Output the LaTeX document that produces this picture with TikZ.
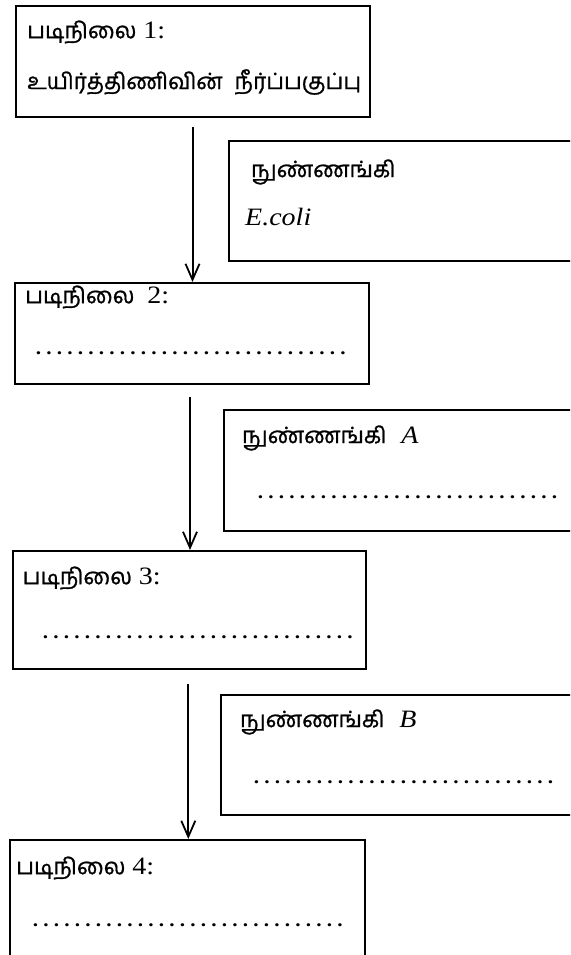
\documentclass[tikz,border=0pt]{standalone}
\usepackage{fontspec}
\setmainfont{Liberation Serif}[FakeStretch=1.12]
\newfontfamily\tamil[Script=Tamil,FakeBold=1]{Hind Madurai}
\usetikzlibrary{arrows.meta}
\newcommand\tamtxt[1]{{\tamil\fontsize{22.5}{25}\selectfont #1}}
\newcommand\dotrow[1]{\makebox[#1][l]{\leaders\hbox to 10.5pt{\hss.\hss}\hskip #1}}
\begin{document}
\begin{tikzpicture}[x=1pt,y=-1pt,
  box/.style={draw,line width=2pt,inner sep=0pt,anchor=north west},
  lbl/.style={anchor=west,inner sep=0pt,font=\fontsize{25}{28}\selectfont},
  dotsty/.style={anchor=west,inner sep=0pt,font=\bfseries\fontsize{19}{22}\selectfont},
  arr/.style={line width=2pt,-{Straight Barb[length=16pt,width=14pt,line width=1.8pt]}}]
\useasboundingbox (0,0) rectangle (570,955);
\clip (0,0) rectangle (570,955);
% main step boxes
\node[box,minimum width=354pt,minimum height=111pt] (b1) at (14.5,5) {};
\node[box,minimum width=354pt,minimum height=101pt] (b2) at (14,282) {};
\node[box,minimum width=353.4pt,minimum height=118pt] (b3) at (11.6,550) {};
\node[box,minimum width=355pt,minimum height=140pt] (b4) at (9,839) {};
% side boxes
\node[box,minimum width=360pt,minimum height=120pt] (s1) at (228,140) {};
\node[box,minimum width=360pt,minimum height=121pt] (s2) at (222.5,409) {};
\node[box,minimum width=360pt,minimum height=120pt] (s3) at (220,694) {};
% texts
\node[lbl] (t1a) at (27,32) {\tamtxt{படிநிலை} 1:};
\node[lbl] (t1b) at (27,82) {\tamtxt{உயிர்த்திணிவின்\hspace{12pt}நீர்ப்பகுப்பு}};
\node[lbl] (t2a) at (25,297) {\tamtxt{படிநிலை}\hspace{6pt} 2:};
\node[dotsty] (t2b) at (33,353) {\dotrow{320pt}};
\node[lbl] (s1a) at (251,172) {\tamtxt{நுண்ணங்கி}};
\node[lbl] (s1b) at (245,217) {\itshape E.coli};
\node[lbl] (s2a) at (242,438) {\tamtxt{நுண்ணங்கி}\hspace{8pt} \itshape A};
\node[dotsty] (s2b) at (255,497) {\dotrow{310pt}};
\node[lbl] (t3a) at (22.5,578) {\tamtxt{படிநிலை} 3:};
\node[dotsty] (t3b) at (40,637) {\dotrow{315pt}};
\node[lbl] (s3a) at (240,722) {\tamtxt{நுண்ணங்கி}\hspace{8pt} \itshape B};
\node[dotsty] (s3b) at (251,782) {\dotrow{313pt}};
\node[lbl] (t4a) at (16,868) {\tamtxt{படிநிலை} 4:};
\node[dotsty] (t4b) at (30,925) {\dotrow{322pt}};
% arrows
\draw[arr] ([yshift=-9pt]b1.south) -- (b1.south |- b2.north);
\draw[arr] ([yshift=-12pt,xshift=-2pt]b2.south) -- ([xshift=-2pt]b2.south |- b3.north);
\draw[arr] ([yshift=-14pt,xshift=-1pt]b3.south) -- ([xshift=-1pt]b3.south |- b4.north);
\end{tikzpicture}
\end{document}
